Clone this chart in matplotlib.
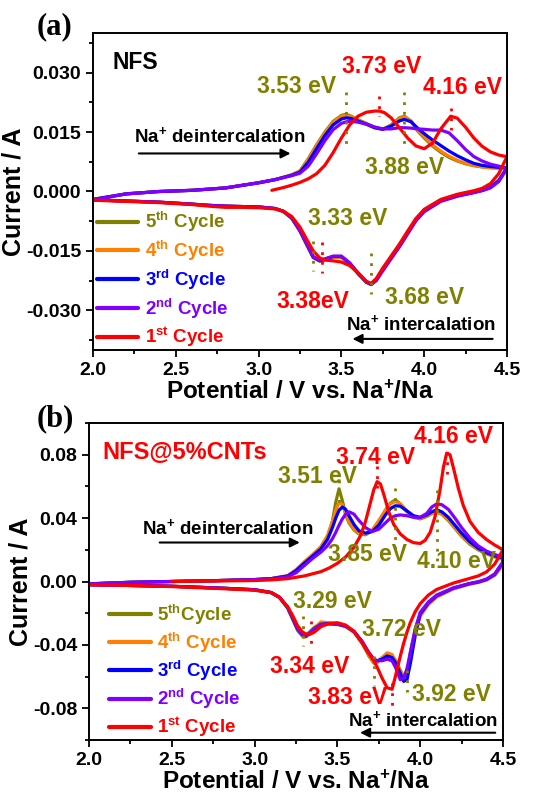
import matplotlib
matplotlib.use("Agg")
import matplotlib.pyplot as plt
from matplotlib.ticker import AutoMinorLocator, MultipleLocator

plt.rcParams['font.family'] = ['Liberation Sans', 'DejaVu Sans']
plt.rcParams['font.weight'] = 'bold'
plt.rcParams['mathtext.fontset'] = 'custom'
plt.rcParams['mathtext.rm'] = 'Liberation Sans:bold'
plt.rcParams['mathtext.bf'] = 'Liberation Sans:bold'
plt.rcParams['mathtext.it'] = 'Liberation Sans:bold'

# ---------------- data : panel (a) NFS ----------------
ea_a = [2.0, 2.2, 2.4, 2.6, 2.8, 3.0, 3.1, 3.2, 3.25, 3.3, 3.35, 3.4, 3.45, 3.5, 3.53, 3.56,
        3.6, 3.65, 3.7, 3.75, 3.8, 3.85, 3.88, 3.92, 3.96, 4.0, 4.05, 4.1, 4.15, 4.2, 4.25,
        4.3, 4.35, 4.4, 4.45, 4.5]
a_ano_c5 = [-0.0020, -0.0006, 0.0000, 0.0003, 0.0009, 0.0022, 0.0030, 0.0042, 0.0052, 0.0083,
            0.0118, 0.0150, 0.0177, 0.0192, 0.0195, 0.0190, 0.0181, 0.0172, 0.0162, 0.0157,
            0.0168, 0.0186, 0.0190, 0.0178, 0.0153, 0.0135, 0.0115, 0.0099, 0.0086, 0.0077,
            0.0070, 0.0065, 0.0062, 0.0060, 0.0059, 0.0060]
a_ano_c4 = [-0.0020, -0.0006, 0.0000, 0.0003, 0.0009, 0.0022, 0.0030, 0.0042, 0.0051, 0.0081,
            0.0116, 0.0148, 0.0175, 0.0190, 0.0193, 0.0189, 0.0180, 0.0171, 0.0161, 0.0157,
            0.0167, 0.0184, 0.0188, 0.0178, 0.0156, 0.0138, 0.0118, 0.0102, 0.0089, 0.0079,
            0.0071, 0.0066, 0.0062, 0.0060, 0.0059, 0.0059]
a_ano_c3 = [-0.0020, -0.0006, 0.0000, 0.0003, 0.0009, 0.0022, 0.0030, 0.0041, 0.0049, 0.0074,
            0.0108, 0.0141, 0.0168, 0.0183, 0.0186, 0.0184, 0.0178, 0.0170, 0.0161, 0.0157,
            0.0165, 0.0178, 0.0182, 0.0176, 0.0160, 0.0146, 0.0130, 0.0116, 0.0102, 0.0090,
            0.0080, 0.0071, 0.0066, 0.0063, 0.0061, 0.0060]
a_ano_c2 = [-0.0021, -0.0006, 0.0000, 0.0003, 0.0009, 0.0022, 0.0030, 0.0040, 0.0046, 0.0064,
            0.0095, 0.0128, 0.0156, 0.0172, 0.0176, 0.0177, 0.0175, 0.0170, 0.0163, 0.0158,
            0.0158, 0.0161, 0.0161, 0.0160, 0.0158, 0.0157, 0.0155, 0.0155, 0.0148, 0.0128,
            0.0106, 0.0088, 0.0077, 0.0069, 0.0064, 0.0058]
ea_a_c1 = [3.08, 3.15, 3.2, 3.25, 3.3, 3.35, 3.4, 3.45, 3.5, 3.55, 3.6, 3.65, 3.7, 3.73, 3.76,
           3.8, 3.85, 3.9, 3.95, 4.0, 4.05, 4.1, 4.16, 4.2, 4.25, 4.3, 4.35, 4.4, 4.45, 4.5]
a_ano_c1 = [0.0003, 0.0010, 0.0016, 0.0023, 0.0032, 0.0045, 0.0066, 0.0098, 0.0135, 0.0168,
            0.0190, 0.0200, 0.0203, 0.0203, 0.0199, 0.0186, 0.0161, 0.0135, 0.0115, 0.0108,
            0.0122, 0.0158, 0.0190, 0.0185, 0.0162, 0.0135, 0.0114, 0.0100, 0.0092, 0.0088]

ec_a = [4.5, 4.45, 4.4, 4.35, 4.3, 4.2, 4.1, 4.0, 3.95, 3.9, 3.85, 3.8, 3.75, 3.71, 3.68, 3.65,
        3.6, 3.55, 3.5, 3.45, 3.4, 3.37, 3.33, 3.3, 3.25, 3.2, 3.15, 3.1, 3.0, 2.9, 2.8, 2.7,
        2.6, 2.4, 2.2, 2.0]
a_cat_c5 = [0.0060, 0.0028, 0.0012, 0.0004, -0.0001, -0.0010, -0.0023, -0.0048, -0.0070, -0.0102,
            -0.0135, -0.0165, -0.0196, -0.0222, -0.0233, -0.0228, -0.0207, -0.0183, -0.0166,
            -0.0166, -0.0172, -0.0175, -0.0165, -0.0140, -0.0098, -0.0066, -0.0050, -0.0043,
            -0.0039, -0.0038, -0.0037, -0.0035, -0.0032, -0.0027, -0.0024, -0.0021]
a_cat_c4 = [0.0059, 0.0027, 0.0011, 0.0003, -0.0002, -0.0011, -0.0024, -0.0050, -0.0073, -0.0106,
            -0.0139, -0.0168, -0.0199, -0.0224, -0.0234, -0.0228, -0.0206, -0.0182, -0.0166,
            -0.0166, -0.0173, -0.0176, -0.0167, -0.0143, -0.0101, -0.0068, -0.0051, -0.0043,
            -0.0039, -0.0038, -0.0037, -0.0035, -0.0032, -0.0027, -0.0024, -0.0021]
a_cat_c3 = [0.0060, 0.0027, 0.0011, 0.0003, -0.0002, -0.0011, -0.0023, -0.0049, -0.0071, -0.0104,
            -0.0137, -0.0167, -0.0198, -0.0224, -0.0235, -0.0229, -0.0207, -0.0181, -0.0164,
            -0.0164, -0.0171, -0.0175, -0.0166, -0.0141, -0.0099, -0.0067, -0.0050, -0.0043,
            -0.0039, -0.0038, -0.0037, -0.0035, -0.0032, -0.0027, -0.0024, -0.0021]
a_cat_c2 = [0.0058, 0.0025, 0.0009, 0.0002, -0.0003, -0.0012, -0.0025, -0.0051, -0.0074, -0.0107,
            -0.0140, -0.0170, -0.0200, -0.0225, -0.0233, -0.0227, -0.0205, -0.0180, -0.0163,
            -0.0163, -0.0170, -0.0173, -0.0165, -0.0140, -0.0099, -0.0066, -0.0050, -0.0043,
            -0.0039, -0.0038, -0.0037, -0.0035, -0.0032, -0.0027, -0.0024, -0.0021]
a_cat_c1 = [0.0088, 0.0045, 0.0020, 0.0008, 0.0002, -0.0007, -0.0020, -0.0045, -0.0068, -0.0100,
            -0.0133, -0.0163, -0.0193, -0.0220, -0.0232, -0.0227, -0.0205, -0.0187, -0.0178,
            -0.0175, -0.0173, -0.0168, -0.0150, -0.0128, -0.0090, -0.0063, -0.0050, -0.0044,
            -0.0041, -0.0040, -0.0040, -0.0037, -0.0033, -0.0028, -0.0025, -0.0022]

# ---------------- data : panel (b) NFS@5%CNTs ----------------
ea_b = [2.0, 2.25, 2.5, 2.75, 3.0, 3.1, 3.2, 3.25, 3.3, 3.35, 3.4, 3.44, 3.47, 3.49, 3.51, 3.53,
        3.55, 3.57, 3.6, 3.63, 3.67, 3.71, 3.75, 3.79, 3.82, 3.85, 3.88, 3.92, 3.96, 4.0, 4.04,
        4.07, 4.1, 4.13, 4.17, 4.21, 4.25, 4.3, 4.35, 4.4, 4.45, 4.5]
b_ano_c5 = [-0.0015, -0.0005, 0.0000, 0.0005, 0.0012, 0.0018, 0.0035, 0.0070, 0.0120, 0.0165,
            0.0215, 0.0280, 0.0380, 0.0500, 0.0585, 0.0510, 0.0420, 0.0370, 0.0325, 0.0300,
            0.0295, 0.0320, 0.0380, 0.0450, 0.0495, 0.0515, 0.0490, 0.0440, 0.0405, 0.0395,
            0.0410, 0.0430, 0.0440, 0.0425, 0.0385, 0.0335, 0.0285, 0.0235, 0.0200, 0.0175,
            0.0155, 0.0140]
b_ano_c4 = [-0.0015, -0.0005, 0.0000, 0.0005, 0.0012, 0.0018, 0.0037, 0.0075, 0.0125, 0.0170,
            0.0220, 0.0290, 0.0380, 0.0450, 0.0500, 0.0485, 0.0430, 0.0380, 0.0330, 0.0305,
            0.0300, 0.0325, 0.0385, 0.0450, 0.0490, 0.0505, 0.0490, 0.0445, 0.0410, 0.0400,
            0.0412, 0.0428, 0.0435, 0.0425, 0.0390, 0.0340, 0.0290, 0.0240, 0.0203, 0.0177,
            0.0157, 0.0140]
b_ano_c3 = [-0.0015, -0.0005, 0.0000, 0.0005, 0.0012, 0.0018, 0.0035, 0.0068, 0.0115, 0.0160,
            0.0205, 0.0265, 0.0340, 0.0400, 0.0450, 0.0470, 0.0455, 0.0415, 0.0360, 0.0320,
            0.0305, 0.0315, 0.0355, 0.0420, 0.0460, 0.0478, 0.0475, 0.0445, 0.0415, 0.0405,
            0.0420, 0.0440, 0.0452, 0.0440, 0.0405, 0.0355, 0.0305, 0.0250, 0.0210, 0.0182,
            0.0162, 0.0148]
b_ano_c2 = [-0.0015, -0.0005, 0.0000, 0.0005, 0.0012, 0.0017, 0.0030, 0.0055, 0.0100, 0.0145,
            0.0185, 0.0225, 0.0270, 0.0310, 0.0355, 0.0395, 0.0425, 0.0440, 0.0425, 0.0385,
            0.0340, 0.0315, 0.0330, 0.0370, 0.0400, 0.0415, 0.0420, 0.0415, 0.0405, 0.0405,
            0.0430, 0.0470, 0.0490, 0.0485, 0.0455, 0.0400, 0.0340, 0.0275, 0.0225, 0.0192,
            0.0170, 0.0155]
ea_b_c1 = [2.5, 2.75, 3.0, 3.1, 3.2, 3.3, 3.4, 3.45, 3.5, 3.55, 3.6, 3.64, 3.67, 3.7, 3.72, 3.74,
           3.76, 3.78, 3.81, 3.84, 3.88, 3.92, 3.96, 4.0, 4.03, 4.06, 4.09, 4.12, 4.14, 4.16,
           4.18, 4.2, 4.23, 4.26, 4.3, 4.35, 4.4, 4.45, 4.5]
b_ano_c1 = [0.0000, 0.0003, 0.0006, 0.0010, 0.0018, 0.0035, 0.0062, 0.0085, 0.0115, 0.0155,
            0.0215, 0.0290, 0.0380, 0.0500, 0.0580, 0.0630, 0.0615, 0.0550, 0.0440, 0.0360,
            0.0300, 0.0265, 0.0245, 0.0240, 0.0260, 0.0310, 0.0410, 0.0580, 0.0720, 0.0810,
            0.0800, 0.0720, 0.0590, 0.0480, 0.0380, 0.0310, 0.0265, 0.0230, 0.0200]

ec_b = [4.5, 4.45, 4.4, 4.35, 4.3, 4.2, 4.1, 4.05, 4.0, 3.97, 3.94, 3.92, 3.9, 3.88, 3.85, 3.83,
        3.8, 3.77, 3.74, 3.72, 3.69, 3.65, 3.6, 3.55, 3.5, 3.45, 3.4, 3.36, 3.33, 3.31, 3.29,
        3.26, 3.23, 3.2, 3.15, 3.1, 3.0, 2.8, 2.5, 2.25, 2.0]
b_cat_c5 = [0.0110, 0.0040, 0.0010, -0.0005, -0.0015, -0.0045, -0.0095, -0.0140, -0.0210, -0.0300,
            -0.0450, -0.0605, -0.0600, -0.0560, -0.0495, -0.0470, -0.0460, -0.0480, -0.0510,
            -0.0515, -0.0470, -0.0390, -0.0320, -0.0285, -0.0270, -0.0265, -0.0260, -0.0290,
            -0.0320, -0.0340, -0.0345, -0.0310, -0.0240, -0.0170, -0.0100, -0.0070, -0.0052,
            -0.0042, -0.0030, -0.0025, -0.0020]
b_cat_c4 = [0.0105, 0.0038, 0.0009, -0.0006, -0.0016, -0.0047, -0.0098, -0.0145, -0.0220, -0.0320,
            -0.0500, -0.0580, -0.0600, -0.0570, -0.0500, -0.0460, -0.0450, -0.0480, -0.0510,
            -0.0510, -0.0465, -0.0385, -0.0315, -0.0280, -0.0265, -0.0260, -0.0255, -0.0300,
            -0.0330, -0.0350, -0.0345, -0.0300, -0.0230, -0.0162, -0.0098, -0.0069, -0.0052,
            -0.0042, -0.0030, -0.0025, -0.0020]
b_cat_c3 = [0.0120, 0.0045, 0.0013, -0.0003, -0.0013, -0.0042, -0.0090, -0.0135, -0.0205, -0.0340,
            -0.0520, -0.0620, -0.0630, -0.0580, -0.0510, -0.0480, -0.0470, -0.0490, -0.0500,
            -0.0490, -0.0450, -0.0380, -0.0315, -0.0280, -0.0268, -0.0265, -0.0270, -0.0300,
            -0.0330, -0.0345, -0.0340, -0.0300, -0.0232, -0.0165, -0.0100, -0.0070, -0.0052,
            -0.0042, -0.0030, -0.0025, -0.0020]
b_cat_c2 = [0.0125, 0.0048, 0.0015, -0.0002, -0.0012, -0.0040, -0.0085, -0.0128, -0.0195, -0.0300,
            -0.0450, -0.0550, -0.0610, -0.0620, -0.0540, -0.0500, -0.0490, -0.0500, -0.0500,
            -0.0490, -0.0450, -0.0380, -0.0315, -0.0282, -0.0270, -0.0268, -0.0272, -0.0302,
            -0.0330, -0.0342, -0.0338, -0.0298, -0.0230, -0.0162, -0.0100, -0.0070, -0.0052,
            -0.0042, -0.0030, -0.0025, -0.0020]
b_cat_c1 = [0.0200, 0.0110, 0.0060, 0.0035, 0.0020, -0.0010, -0.0050, -0.0085, -0.0140, -0.0190,
            -0.0260, -0.0320, -0.0390, -0.0470, -0.0600, -0.0680, -0.0670, -0.0610, -0.0540,
            -0.0500, -0.0455, -0.0390, -0.0315, -0.0275, -0.0260, -0.0265, -0.0285, -0.0320,
            -0.0335, -0.0330, -0.0320, -0.0280, -0.0215, -0.0160, -0.0100, -0.0070, -0.0055,
            -0.0045, -0.0032, -0.0025, -0.0020]

labels_a = [r"5$^{\mathrm{th}}$ Cycle", r"4$^{\mathrm{th}}$ Cycle", r"3$^{\mathrm{rd}}$ Cycle",
            r"2$^{\mathrm{nd}}$ Cycle", r"1$^{\mathrm{st}}$ Cycle"]
labels_b = [r"5$^{\mathrm{th}}$Cycle", r"4$^{\mathrm{th}}$ Cycle", r"3$^{\mathrm{rd}}$ Cycle",
            r"2$^{\mathrm{nd}}$ Cycle", r"1$^{\mathrm{st}}$ Cycle"]
colors = ["#808000", "#FF8000", "#0000FF", "#8000FF", "#FF0000"]
OLIVE, RED = "#808000", "#FF0000"

# peak annotations: (text, x, y, color)
ann_a = [("3.53 eV", 3.23, 0.0265, OLIVE), ("3.73 eV", 3.74, 0.0315, RED),
         ("4.16 eV", 4.23, 0.0262, RED), ("3.88 eV", 3.88, 0.0060, OLIVE),
         ("3.33 eV", 3.54, -0.0068, OLIVE), ("3.38eV", 3.33, -0.0277, RED),
         ("3.68 eV", 4.00, -0.0267, OLIVE)]
# dotted markers: (x, y0, y1, color)
mark_a = [(3.53, 0.0250, 0.0115, OLIVE), (3.88, 0.0250, 0.0115, OLIVE),
          (3.73, 0.0242, 0.0190, RED), (4.16, 0.0210, 0.0155, RED),
          (3.33, -0.0126, -0.0200, OLIVE), (3.38, -0.0128, -0.0205, RED),
          (3.68, -0.0155, -0.0258, OLIVE)]
ann_b = [("3.51 eV", 3.38, 0.0663, OLIVE), ("3.74 eV", 3.73, 0.0780, RED),
         ("4.16 eV", 4.20, 0.0916, RED), ("3.85 eV", 3.68, 0.0170, OLIVE),
         ("4.10 eV", 4.22, 0.0126, OLIVE), ("3.29 eV", 3.47, -0.0126, OLIVE),
         ("3.72 eV", 3.89, -0.0303, OLIVE), ("3.34 eV", 3.33, -0.0537, RED),
         ("3.83 eV", 3.56, -0.0733, RED), ("3.92 eV", 4.19, -0.0714, OLIVE)]
mark_b = [(3.51, 0.0640, 0.0500, OLIVE), (3.85, 0.0590, 0.0180, OLIVE),
          (4.10, 0.0580, 0.0095, OLIVE), (3.74, 0.0730, 0.0590, RED),
          (4.16, 0.0820, 0.0680, RED), (3.29, -0.0220, -0.0410, OLIVE),
          (3.34, -0.0250, -0.0430, RED), (3.72, -0.0470, -0.0660, OLIVE),
          (3.83, -0.0640, -0.0790, RED), (3.92, -0.0556, -0.0700, OLIVE)]


def style_axes(ax, ymaj, ylim, fmt):
    ax.set_xlim(2.0, 4.5)
    ax.set_ylim(*ylim)
    ax.xaxis.set_major_locator(MultipleLocator(0.5))
    ax.yaxis.set_major_locator(MultipleLocator(ymaj))
    ax.xaxis.set_minor_locator(AutoMinorLocator(2))
    ax.yaxis.set_minor_locator(AutoMinorLocator(2))
    ax.yaxis.set_major_formatter(plt.FuncFormatter(lambda v, p: fmt.format(v) if abs(v) > 1e-9 else fmt.format(0.0)))
    ax.xaxis.set_major_formatter(plt.FuncFormatter(lambda v, p: "{:.1f}".format(v)))
    ax.tick_params(which='both', direction='out', top=False, right=False, width=1.3,
                   labelsize=14)
    ax.tick_params(which='major', length=5)
    ax.tick_params(which='minor', length=3)
    for lab in ax.get_xticklabels() + ax.get_yticklabels():
        lab.set_fontweight('bold')
    for s in ax.spines.values():
        s.set_linewidth(1.4)
    ax.set_xlabel(r"Potential / V vs. Na$^{+}$/Na", fontsize=17.5, fontweight='bold', labelpad=1)
    ax.set_ylabel("Current / A", fontsize=18, fontweight='bold', labelpad=0)


fig = plt.figure(figsize=(5.44, 8.01), dpi=100)
ax1 = fig.add_axes([93 / 544, 1 - 350 / 801, 414 / 544, 317 / 801])
ax2 = fig.add_axes([89 / 544, 1 - 740 / 801, 414 / 544, 317 / 801])

lw = 2.3
# panel a
ano_a = [(ea_a, a_ano_c5), (ea_a, a_ano_c4), (ea_a, a_ano_c3), (ea_a, a_ano_c2), (ea_a_c1, a_ano_c1)]
cat_a = [a_cat_c5, a_cat_c4, a_cat_c3, a_cat_c2, a_cat_c1]
handles = []
for (xs, ys), yc, c, lab in zip(ano_a, cat_a, colors, labels_a):
    h, = ax1.plot(list(xs) + ec_a, list(ys) + yc, color=c, lw=lw, label=lab,
                  solid_joinstyle='round', solid_capstyle='round')
    handles.append(h)
style_axes(ax1, 0.015, (-0.04, 0.04), "{:.3f}")
ax1.legend(handles=handles, loc='lower left', bbox_to_anchor=(0.0, -0.01), frameon=False,
           labelcolor='linecolor', prop={'weight': 'bold', 'size': 13.5}, handlelength=2.2,
           handletextpad=0.35, labelspacing=0.25, borderaxespad=0.1, borderpad=0.1)
for leg_line in ax1.get_legend().get_lines():
    leg_line.set_linewidth(3)
for t, x, y, c in ann_a:
    ax1.text(x, y, t, color=c, fontsize=16.5, fontweight='bold', ha='center', va='center')
for x, y0, y1, c in mark_a:
    ax1.plot([x, x], [y0, y1], ls=(0, (1, 2.5)), color=c, lw=2)
ax1.text(2.12, 0.0325, "NFS", fontsize=16.5, fontweight='bold', ha='left', va='center')
ax1.text(2.25, 0.0141, r"Na$^{+}$ deintercalation", fontsize=13.5, fontweight='bold',
         ha='left', va='center')
ax1.annotate("", xy=(3.21, 0.0096), xytext=(2.26, 0.0096),
             arrowprops=dict(arrowstyle='-|>', color='black', lw=1.5, mutation_scale=14))
ax1.text(4.43, -0.0335, r"Na$^{+}$ intercalation", fontsize=13.5, fontweight='bold',
         ha='right', va='center')
ax1.annotate("", xy=(3.55, -0.0372), xytext=(4.43, -0.0372),
             arrowprops=dict(arrowstyle='-|>', color='black', lw=1.5, mutation_scale=14))

# panel b
ano_b = [(ea_b, b_ano_c5), (ea_b, b_ano_c4), (ea_b, b_ano_c3), (ea_b, b_ano_c2), (ea_b_c1, b_ano_c1)]
cat_b = [b_cat_c5, b_cat_c4, b_cat_c3, b_cat_c2, b_cat_c1]
handles = []
for (xs, ys), yc, c, lab in zip(ano_b, cat_b, colors, labels_b):
    h, = ax2.plot(list(xs) + ec_b, list(ys) + yc, color=c, lw=lw, label=lab,
                  solid_joinstyle='round', solid_capstyle='round')
    handles.append(h)
style_axes(ax2, 0.04, (-0.1, 0.1), "{:.2f}")
ax2.legend(handles=handles, loc='lower left', bbox_to_anchor=(0.04, -0.01), frameon=False,
           labelcolor='linecolor', prop={'weight': 'bold', 'size': 13.5}, handlelength=2.2,
           handletextpad=0.35, labelspacing=0.22, borderaxespad=0.1, borderpad=0.1)
for leg_line in ax2.get_legend().get_lines():
    leg_line.set_linewidth(3)
for t, x, y, c in ann_b:
    ax2.text(x, y, t, color=c, fontsize=16.5, fontweight='bold', ha='center', va='center')
for x, y0, y1, c in mark_b:
    ax2.plot([x, x], [y0, y1], ls=(0, (1, 2.5)), color=c, lw=2)
ax2.text(2.08, 0.0815, "NFS@5%CNTs", color=RED, fontsize=17, fontweight='bold',
         ha='left', va='center')
ax2.text(2.32, 0.034, r"Na$^{+}$ deintercalation", fontsize=13.5, fontweight='bold',
         ha='left', va='center')
ax2.annotate("", xy=(3.29, 0.0246), xytext=(2.41, 0.0246),
             arrowprops=dict(arrowstyle='-|>', color='black', lw=1.5, mutation_scale=14))
ax2.text(4.47, -0.0872, r"Na$^{+}$ intercalation", fontsize=13.5, fontweight='bold',
         ha='right', va='center')
ax2.annotate("", xy=(3.62, -0.0954), xytext=(4.47, -0.0954),
             arrowprops=dict(arrowstyle='-|>', color='black', lw=1.5, mutation_scale=14))

fig.text(37 / 544, 1 - 27 / 801, "(a)", family=['Liberation Serif', 'DejaVu Serif'],
         fontsize=22, fontweight='bold', ha='left', va='center')
fig.text(37 / 544, 1 - 419 / 801, "(b)", family=['Liberation Serif', 'DejaVu Serif'],
         fontsize=22, fontweight='bold', ha='left', va='center')

fig.savefig("out.png", dpi=100)
